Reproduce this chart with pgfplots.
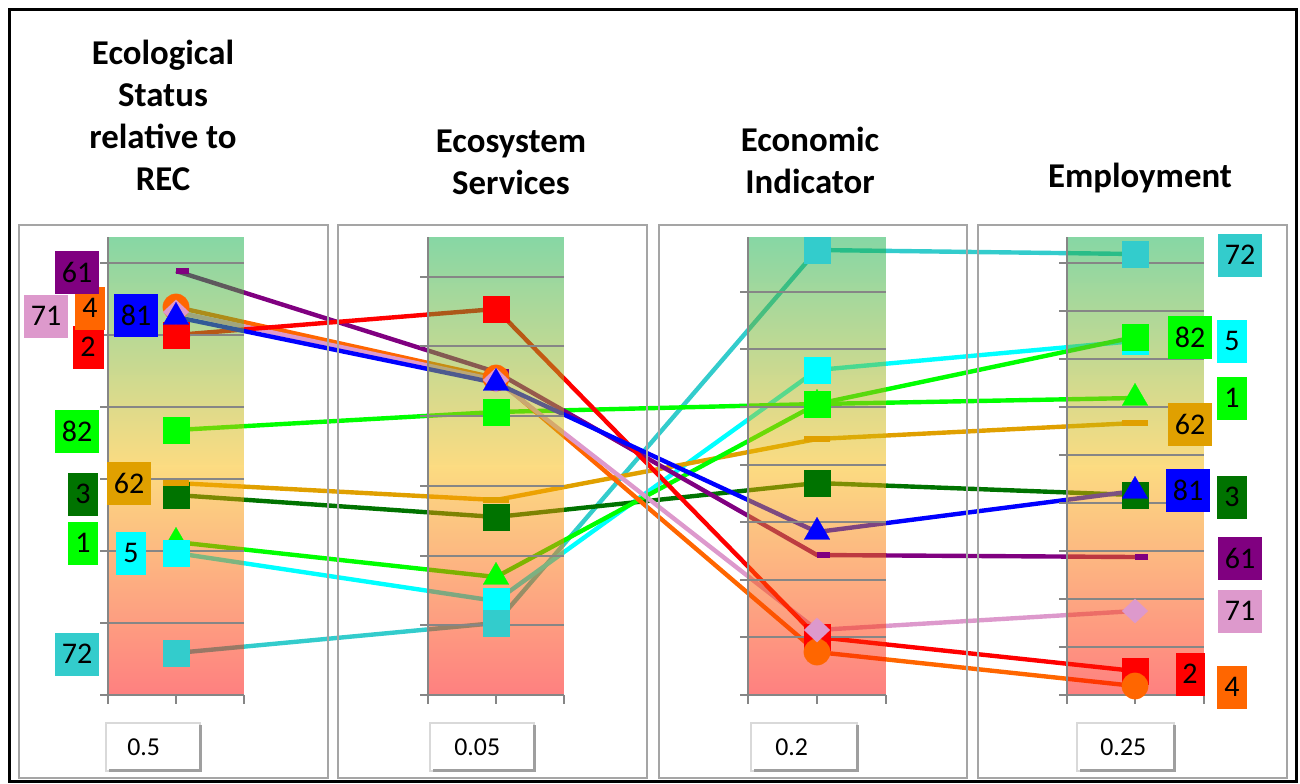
\documentclass[border=0pt]{standalone}
\usepackage{pgfplots}
\pgfplotsset{compat=1.18}
\usepackage{pgfplotstable}
\usepackage{fontspec}
\setmainfont{Carlito}

\definecolor{cA}{RGB}{0,255,0}     % 1
\definecolor{cB}{RGB}{255,0,0}     % 2
\definecolor{cC}{RGB}{0,115,0}     % 3
\definecolor{cD}{RGB}{255,102,0}   % 4
\definecolor{cE}{RGB}{0,255,255}   % 5
\definecolor{cF}{RGB}{128,0,128}   % 61
\definecolor{cG}{RGB}{224,160,0}   % 62
\definecolor{cH}{RGB}{221,153,204} % 71
\definecolor{cI}{RGB}{51,204,204}  % 72
\definecolor{cJ}{RGB}{0,0,255}     % 81
\definecolor{cK}{RGB}{0,255,0}     % 82
\definecolor{gridc}{RGB}{134,134,134}
\definecolor{panelc}{RGB}{165,165,165}

% positions of each option on the four criteria (vertical position, top = best)
\pgfplotstableread{
x    s1  s2  s3  s4  s5  s61 s62 s71 s72 s81 s82
176  542 335 495 307 553 271 483 312 653 317 430
496  577 309 517 378 601 372 500 380 623 383 412
817  404 637 483 652 370 555 439 630 250 532 404
1135 398 671 495 686 341 557 423 611 254 491 337
}\data

% semi-transparent green-yellow-red band, built from thin solid strips
\newcommand\band[2]{%
  \pgfplotsinvokeforeach{0,...,228}{%
    \pgfmathsetmacro\tt{(##1+0.5)/229}%
    \pgfmathtruncatemacro\rr{ifthenelse(\tt<0.5, 15+234*2*\tt, 249+6*(2*\tt-1))}%
    \pgfmathtruncatemacro\gg{ifthenelse(\tt<0.5, 175+10*2*\tt, 185-183*(2*\tt-1))}%
    \pgfmathtruncatemacro\bb{ifthenelse(\tt<0.5, 75-70*2*\tt, 5-3*(2*\tt-1))}%
    \pgfmathtruncatemacro\ya{237+2*##1}%
    \pgfmathtruncatemacro\yb{239+2*##1}%
    \edef\tmp{\noexpand\fill[fill={rgb,255:red,\rr;green,\gg;blue,\bb}, fill opacity=0.5] (axis cs:#1,\ya) rectangle (axis cs:#2,\yb);}%
    \tmp}}

\newcommand\labfont{\fontsize{15pt}{15pt}\selectfont}
\newcommand\lab[5]{\node[fill=#1, minimum width=#2, minimum height=21.5pt, inner sep=0pt, font=\labfont, text=black] at (axis cs:#3,#4) {#5};}
\newcommand\valbox[4]{%
  \fill[white] (axis cs:#1,723) rectangle (axis cs:#2,771);
  \draw[gray!30, line width=0.6pt] (axis cs:#1,723) rectangle (axis cs:#2,771);
  \draw[gray!75, line width=1.5pt] (axis cs:#1+3,770) -- (axis cs:#2,770) -- (axis cs:#2,725);
  \node[anchor=west, inner sep=0pt, font=\fontsize{12.9pt}{13pt}\selectfont] at (axis cs:#3,747) {#4};}

\pgfplotsset{mk/.style={only marks, color=#1, mark options={solid, fill=#1, draw=#1, line width=0.1pt}}}

\begin{document}
\begin{tikzpicture}
\begin{axis}[
  width=650pt, height=391.5pt, scale only axis,
  xmin=0, xmax=1300, ymin=0, ymax=783, y dir=reverse,
  hide axis, clip=false,
]
\path (axis cs:0,0) rectangle (axis cs:1300,783);

% ---- lines
\addplot[cI, line width=2.2pt, mark=none] table[x=x,y=s72]{\data};
\addplot[cE, line width=2.2pt, mark=none] table[x=x,y=s5]{\data};
\addplot[cC, line width=2.2pt, mark=none] table[x=x,y=s3]{\data};
\addplot[cG, line width=2.2pt, mark=none] table[x=x,y=s62]{\data};
\addplot[cA, line width=2.2pt, mark=none] table[x=x,y=s1]{\data};
\addplot[cK, line width=2.2pt, mark=none] table[x=x,y=s82]{\data};
\addplot[cD, line width=2.2pt, mark=none] table[x=x,y=s4]{\data};
\addplot[cH, line width=2.2pt, mark=none] table[x=x,y=s71]{\data};
\addplot[cF, line width=2.2pt, mark=none] table[x=x,y=s61]{\data};
\addplot[cB, line width=2.2pt, mark=none] table[x=x,y=s2]{\data};
\addplot[cJ, line width=2.2pt, mark=none] table[x=x,y=s81]{\data};

% ---- bands (semi-transparent, over the lines)
\band{108}{244}
\band{428}{564}
\band{748}{886}
\band{1067}{1204}

% ---- grid lines and small axes
\draw[gridc, line width=0.8pt]
  (axis cs:100,263) -- (axis cs:244,263) (axis cs:100,335) -- (axis cs:244,335)
  (axis cs:100,407) -- (axis cs:244,407) (axis cs:100,479) -- (axis cs:244,479)
  (axis cs:100,551) -- (axis cs:244,551) (axis cs:100,623) -- (axis cs:244,623)
  (axis cs:100,695) -- (axis cs:244,695) (axis cs:108,237) -- (axis cs:108,695)
  (axis cs:108,695) -- (axis cs:108,704) (axis cs:176,695) -- (axis cs:176,704) (axis cs:244,695) -- (axis cs:244,704);
\draw[gridc, line width=0.8pt]
  (axis cs:420,277) -- (axis cs:564,277) (axis cs:420,346) -- (axis cs:564,346)
  (axis cs:420,416) -- (axis cs:564,416) (axis cs:420,486) -- (axis cs:564,486)
  (axis cs:420,556) -- (axis cs:564,556) (axis cs:420,625) -- (axis cs:564,625)
  (axis cs:420,695) -- (axis cs:564,695) (axis cs:428,237) -- (axis cs:428,695)
  (axis cs:428,695) -- (axis cs:428,704) (axis cs:496,695) -- (axis cs:496,704) (axis cs:564,695) -- (axis cs:564,704);
\draw[gridc, line width=0.8pt]
  (axis cs:740,292) -- (axis cs:886,292) (axis cs:740,349) -- (axis cs:886,349)
  (axis cs:740,407) -- (axis cs:886,407) (axis cs:740,465) -- (axis cs:886,465)
  (axis cs:740,522) -- (axis cs:886,522) (axis cs:740,580) -- (axis cs:886,580)
  (axis cs:740,637) -- (axis cs:886,637) (axis cs:740,695) -- (axis cs:886,695)
  (axis cs:748,237) -- (axis cs:748,695)
  (axis cs:748,695) -- (axis cs:748,704) (axis cs:817,695) -- (axis cs:817,704) (axis cs:886,695) -- (axis cs:886,704);
\draw[gridc, line width=0.8pt]
  (axis cs:1059,263) -- (axis cs:1204,263) (axis cs:1059,311) -- (axis cs:1204,311)
  (axis cs:1059,359) -- (axis cs:1204,359) (axis cs:1059,407) -- (axis cs:1204,407)
  (axis cs:1059,455) -- (axis cs:1204,455) (axis cs:1059,503) -- (axis cs:1204,503)
  (axis cs:1059,551) -- (axis cs:1204,551) (axis cs:1059,599) -- (axis cs:1204,599)
  (axis cs:1059,647) -- (axis cs:1204,647) (axis cs:1059,695) -- (axis cs:1204,695)
  (axis cs:1067,237) -- (axis cs:1067,695)
  (axis cs:1067,695) -- (axis cs:1067,704) (axis cs:1135,695) -- (axis cs:1135,704) (axis cs:1204,695) -- (axis cs:1204,704);

% ---- panel borders and outer frame
\draw[panelc, line width=1pt] (axis cs:19,225) rectangle (axis cs:328,778);
\draw[panelc, line width=1pt] (axis cs:338,225) rectangle (axis cs:647,778);
\draw[panelc, line width=1pt] (axis cs:659,225) rectangle (axis cs:967,778);
\draw[panelc, line width=1pt] (axis cs:978,225) rectangle (axis cs:1287,778);
\draw[black, line width=1.5pt] (axis cs:9.5,9.5) rectangle (axis cs:1296,781);

% ---- markers
\addplot[mk=cA, mark=triangle*, mark size=7.4pt] table[x=x,y=s1]{\data};
\addplot[mk=cE, mark=square*, mark size=6.5pt] table[x=x,y=s5]{\data};
\addplot[mk=cI, mark=square*, mark size=6.5pt] table[x=x,y=s72]{\data};
\addplot[mk=cK, mark=square*, mark size=6.5pt] table[x=x,y=s82]{\data};
\addplot[mk=cC, mark=square*, mark size=6.5pt] table[x=x,y=s3]{\data};
\addplot[only marks, color=cG, mark=-, mark size=6.5pt, mark options={solid, draw=cG, line width=3pt}] table[x=x,y=s62]{\data};
\addplot[only marks, color=cF, mark=-, mark size=3.3pt, mark options={solid, draw=cF, line width=2.6pt, xshift=3.3pt}] table[x=x,y=s61]{\data};
\addplot[mk=cB, mark=square*, mark size=6.5pt] table[x=x,y=s2]{\data};
\addplot[mk=cD, mark=*, mark size=6.6pt] table[x=x,y=s4]{\data};
\addplot[only marks, color=cH, mark=diamond*, mark size=6.1pt, mark options={solid, fill=cH, draw=cH, line width=0.1pt, xscale=1.4}] table[x=x,y=s71]{\data};
\addplot[mk=cJ, mark=triangle*, mark size=7.4pt] table[x=x,y=s81]{\data};

% ---- label boxes, left
\lab{cH}{22pt}{46}{316}{71}
\lab{cB}{15.5pt}{88}{347}{2}
\lab{cD}{15pt}{90}{308}{4}
\lab{cF}{22pt}{77}{272}{61}
\lab{cJ}{22pt}{136}{315}{81}
\lab{cK}{22pt}{77}{431}{82}
\lab{cC}{15pt}{83}{494}{3}
\lab{cG}{22pt}{129}{483}{62}
\lab{cA}{15pt}{83}{543}{1}
\lab{cE}{15pt}{131}{553}{5}
\lab{cI}{22pt}{77}{654}{72}
% ---- label boxes, right
\lab{cI}{22pt}{1240}{255}{72}
\lab{cK}{22pt}{1190}{337}{82}
\lab{cE}{15pt}{1232}{341}{5}
\lab{cA}{15pt}{1232}{398}{1}
\lab{cG}{22pt}{1190}{424}{62}
\lab{cJ}{22pt}{1188}{490}{81}
\lab{cC}{15pt}{1232}{497}{3}
\lab{cF}{22pt}{1240}{558}{61}
\lab{cH}{22pt}{1240}{611}{71}
\lab{cB}{14.5pt}{1190}{674}{2}
\lab{cD}{15pt}{1232}{687}{4}

% ---- titles
\node[align=center, inner sep=0pt, font=\fontsize{17.4pt}{21pt}\selectfont\bfseries] at (axis cs:163,115) {Ecological\\Status\\relative to\\REC};
\node[align=center, inner sep=0pt, font=\fontsize{17.4pt}{21pt}\selectfont\bfseries] at (axis cs:511,162) {Ecosystem\\Services};
\node[align=center, inner sep=0pt, font=\fontsize{17.4pt}{21pt}\selectfont\bfseries] at (axis cs:810,160) {Economic\\Indicator};
\node[align=center, inner sep=0pt, font=\fontsize{17.4pt}{21pt}\selectfont\bfseries] at (axis cs:1140,178) {Employment};

% ---- weight boxes
\valbox{106}{200}{127}{0.5}
\valbox{430}{534}{454}{0.05}
\valbox{751}{857}{775}{0.2}
\valbox{1077}{1174}{1100}{0.25}
\end{axis}
\end{tikzpicture}
\end{document}
